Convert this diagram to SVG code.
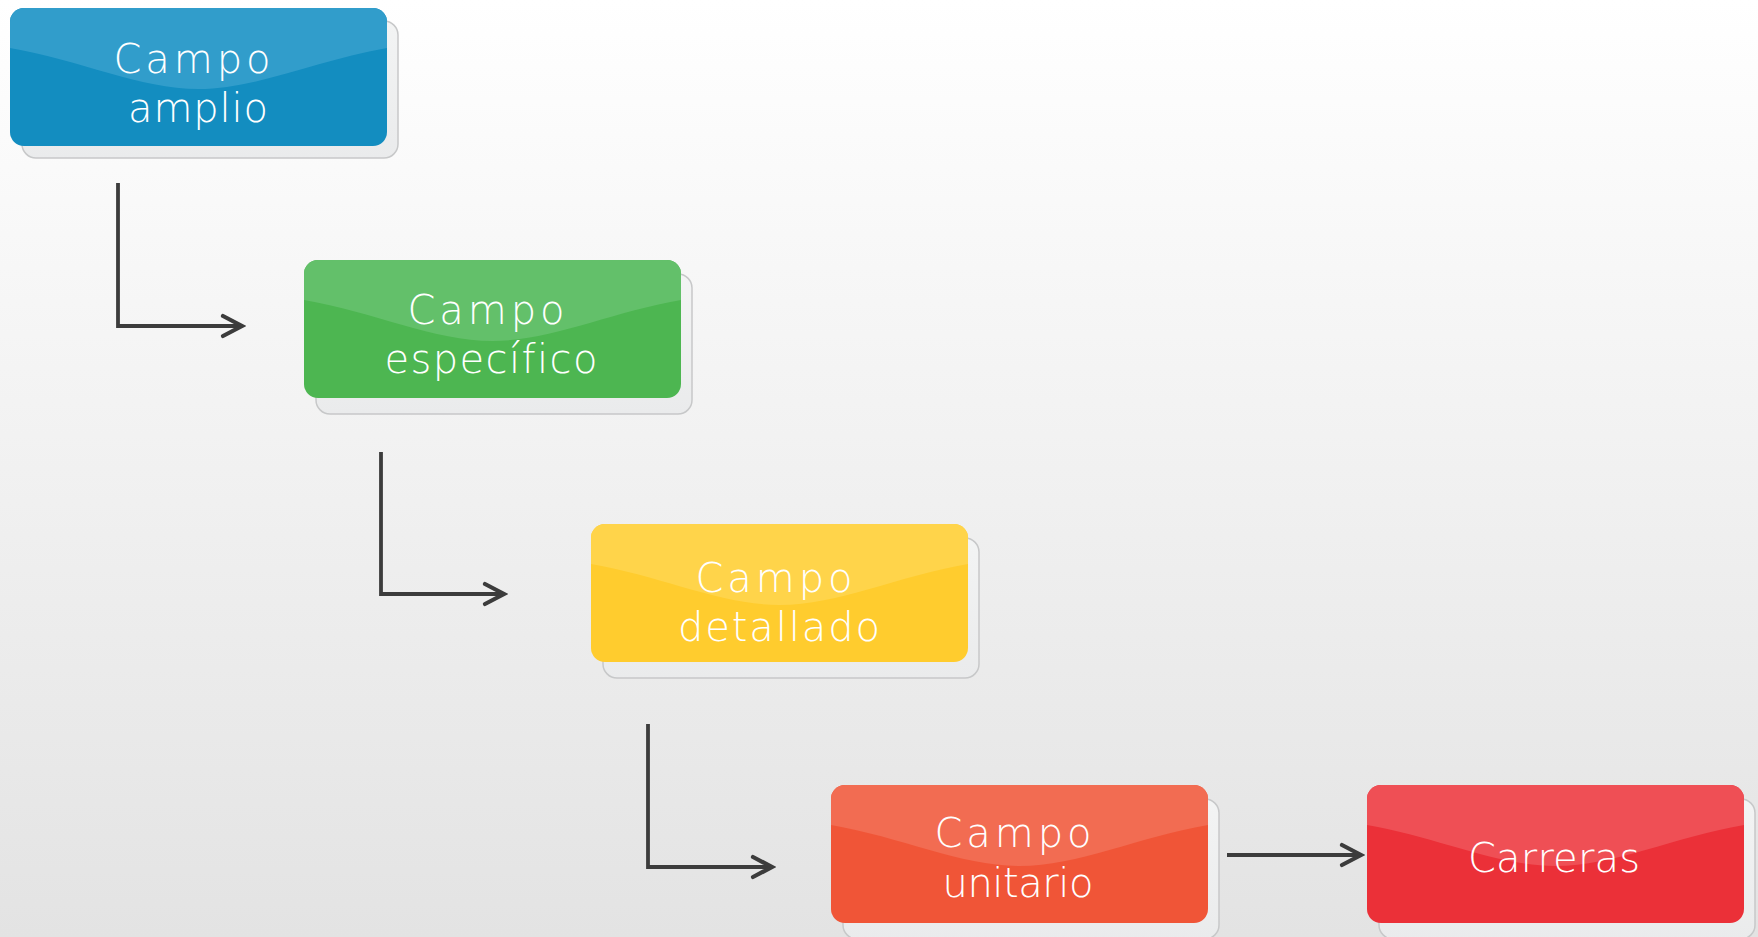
<svg xmlns="http://www.w3.org/2000/svg" width="1758" height="937" viewBox="0 0 1758 937">
<defs>
<linearGradient id="bg" x1="0" y1="0" x2="0" y2="1">
<stop offset="0" stop-color="#FFFFFF"/>
<stop offset="1" stop-color="#E3E3E3"/>
</linearGradient>
<linearGradient id="card" x1="0" y1="0" x2="0" y2="1">
<stop offset="0" stop-color="#F3F4F4"/>
<stop offset="1" stop-color="#EAEBEC"/>
</linearGradient>
<marker id="arr" viewBox="0 0 26 26" markerWidth="26" markerHeight="26" refX="22" refY="13" orient="auto" markerUnits="userSpaceOnUse">
<path d="M3,3 L22,13 L3,23" fill="none" stroke="#3C3C3C" stroke-width="4.2" stroke-linecap="round" stroke-linejoin="miter"/>
</marker>
<path id="wave" d="M0,40 C70,52 130,81 188.5,81 C247,81 307,52 377,40 L377,14 A14,14 0 0 0 363,0 L14,0 A14,14 0 0 0 0,14 Z"/>
</defs>
<style>
.shadow{fill:url(#card);stroke:#C7C8C9;stroke-width:1.5}
.lbl{font-family:"DejaVu Sans","Open Sans",sans-serif;font-weight:200;font-size:40px;fill:#FFFFFF;text-anchor:middle;font-variant-ligatures:none}
.conn{fill:none;stroke:#3C3C3C;stroke-width:3.8}
</style>
<rect x="0" y="0" width="1758" height="937" fill="url(#bg)"/>

<g id="connectors">
<path class="conn" d="M118,183 V326 H242" marker-end="url(#arr)"/>
<path class="conn" d="M381,452 V594 H504" marker-end="url(#arr)"/>
<path class="conn" d="M648,724 V867 H772" marker-end="url(#arr)"/>
<path class="conn" d="M1227,855 H1361" marker-end="url(#arr)"/>
</g>

<g id="n1" transform="translate(10,8)">
<rect class="shadow" x="12" y="13" width="376" height="137" rx="14"/>
<rect x="0" y="0" width="377" height="138" rx="14" fill="#138DC0"/>
<use href="#wave" fill="#319DCB"/>
<text class="lbl" x="182" y="65" textLength="157" lengthAdjust="spacing">Campo</text>
<text class="lbl" x="188" y="114" textLength="140" lengthAdjust="spacing">amplio</text>
</g>

<g id="n2" transform="translate(304,260)">
<rect class="shadow" x="12" y="14" width="376" height="140" rx="14"/>
<rect x="0" y="0" width="377" height="138" rx="14" fill="#4DB651"/>
<use href="#wave" fill="#63C06A"/>
<text class="lbl" x="182" y="64" textLength="157" lengthAdjust="spacing">Campo</text>
<text class="lbl" x="187" y="113" textLength="213" lengthAdjust="spacing">específico</text>
</g>

<g id="n3" transform="translate(591,524)">
<rect class="shadow" x="12" y="14" width="376" height="140" rx="14"/>
<rect x="0" y="0" width="377" height="138" rx="14" fill="#FFCC2E"/>
<use href="#wave" fill="#FFD44A"/>
<text class="lbl" x="183" y="68" textLength="157" lengthAdjust="spacing">Campo</text>
<text class="lbl" x="188" y="117" textLength="202" lengthAdjust="spacing">detallado</text>
</g>

<g id="n4" transform="translate(831,785)">
<rect class="shadow" x="12" y="14" width="376" height="140" rx="14"/>
<rect x="0" y="0" width="377" height="138" rx="14" fill="#F05537"/>
<use href="#wave" fill="#F26C52"/>
<text class="lbl" x="182" y="62" textLength="157" lengthAdjust="spacing">Campo</text>
<text class="lbl" x="187" y="112" textLength="151" lengthAdjust="spacing">unitario</text>
</g>

<g id="n5" transform="translate(1367,785)">
<rect class="shadow" x="12" y="14" width="376" height="140" rx="14"/>
<rect x="0" y="0" width="377" height="138" rx="14" fill="#EB3038"/>
<use href="#wave" fill="#EF4F55"/>
<text class="lbl" x="187" y="87" textLength="172" lengthAdjust="spacing">Carreras</text>
</g>
</svg>
